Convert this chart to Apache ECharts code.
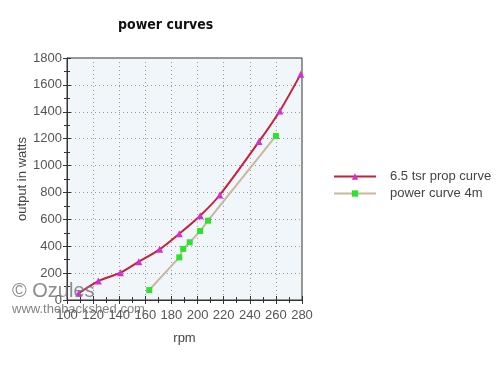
<!DOCTYPE html>
<html><head><meta charset="utf-8">
<script src="https://cdn.jsdelivr.net/npm/echarts@6/dist/echarts.min.js"></script>
<style>html,body{margin:0;padding:0;background:#fff}#c{width:500px;height:375px}</style>
</head><body><div id="c"></div>
<script>
var xTicks = [100,120,140,160,180,200,220,240,260,280];
var yTicks = [0,200,400,600,800,1000,1200,1400,1600,1800];
var propRpm = [109,124,141,155,171,186,202,217,247,263,279];
var propWatts = [50,141,203,285,377,493,627,781,1178,1406,1680];
var powerRpm = [163,186,189,194,202,208,260];
var powerWatts = [74,317,380,429,513,590,1220];
var seriesNames = ['6.5 tsr prop curve','power curve 4m'];

function pairs(xs, ys){ return xs.map(function(x,i){return [x, ys[i]];}); }

var chart = echarts.init(document.getElementById('c'));
var font = 'Liberation Sans, Arial, sans-serif';
var tickCol = '#333';
function plain(v){ return String(v); }
chart.setOption({
  animation:false,
  backgroundColor:'#ffffff',
  title:{text:'power curves', left:113, top:13,
    textStyle:{fontFamily:'DejaVu Sans Condensed, DejaVu Sans', fontWeight:'bold', fontSize:14, color:'#111'}},
  grid:{left:67, right:198, top:58, bottom:75, show:true, backgroundColor:'#f1f6fb', borderColor:'#333', borderWidth:1},
  legend:{orient:'vertical', left:333, top:170, padding:0, itemWidth:42, itemHeight:8, itemGap:4,
    textStyle:{fontFamily:font, fontSize:13, color:'#444', padding:[0,0,0,9]},
    data:seriesNames},
  xAxis:[{type:'value', min:xTicks[0], max:xTicks[xTicks.length-1], interval:20,
    name:'rpm', nameLocation:'middle', nameGap:32,
    nameTextStyle:{fontFamily:font, fontSize:13, color:'#444'},
    axisLine:{lineStyle:{color:tickCol}},
    axisTick:{show:true, length:4, lineStyle:{color:tickCol}},
    minorTick:{show:true, splitNumber:2, length:3, lineStyle:{color:tickCol}},
    axisLabel:{fontFamily:font, fontSize:13, color:'#555', margin:9, formatter:plain},
    splitLine:{show:true, lineStyle:{color:'#999', type:[1,3]}}},
   {type:'value', min:xTicks[0], max:xTicks[xTicks.length-1], interval:20, position:'bottom',
    axisLine:{show:false},
    axisTick:{show:true, inside:true, length:4, lineStyle:{color:tickCol}},
    minorTick:{show:true, splitNumber:2, length:3, lineStyle:{color:tickCol}},
    axisLabel:{show:false}, splitLine:{show:false}}],
  yAxis:[{type:'value', min:yTicks[0], max:yTicks[yTicks.length-1], interval:200,
    name:'output in watts', nameLocation:'middle', nameGap:38, nameRotate:90,
    nameTextStyle:{fontFamily:font, fontSize:13, color:'#444'},
    axisLine:{show:true, lineStyle:{color:tickCol}},
    axisTick:{show:true, length:4, lineStyle:{color:tickCol}},
    minorTick:{show:true, splitNumber:2, length:3, lineStyle:{color:tickCol}},
    axisLabel:{fontFamily:font, fontSize:13, color:'#555', margin:5, formatter:plain},
    splitLine:{show:true, lineStyle:{color:'#999', type:[1,3]}}},
   {type:'value', min:yTicks[0], max:yTicks[yTicks.length-1], interval:200, position:'left',
    axisLine:{show:false},
    axisTick:{show:true, inside:true, length:4, lineStyle:{color:tickCol}},
    minorTick:{show:true, splitNumber:2, length:3, lineStyle:{color:tickCol}},
    axisLabel:{show:false}, splitLine:{show:false}}],
  graphic:[
    {type:'text', left:12, top:281, z:100, style:{text:'© Ozules', fontFamily:font, fontSize:20, fill:'rgba(120,120,120,0.85)'}},
    {type:'text', left:12, top:303, z:100, style:{text:'www.thebackshed.com', fontFamily:font, fontSize:13, fill:'rgba(110,110,110,0.85)'}}
  ],
  series:[
    {name:seriesNames[0], type:'line', smooth:0.3, data:pairs(propRpm, propWatts),
     symbol:'triangle', symbolSize:7, lineStyle:{color:'#c8203a', width:2},
     itemStyle:{color:'#d22fd2'}, z:3},
    {name:seriesNames[1], type:'line', data:pairs(powerRpm, powerWatts),
     symbol:'rect', symbolSize:6, lineStyle:{color:'#c8b89c', width:2},
     itemStyle:{color:'#2fe02f'}, z:2}
  ]
});
</script></body></html>
